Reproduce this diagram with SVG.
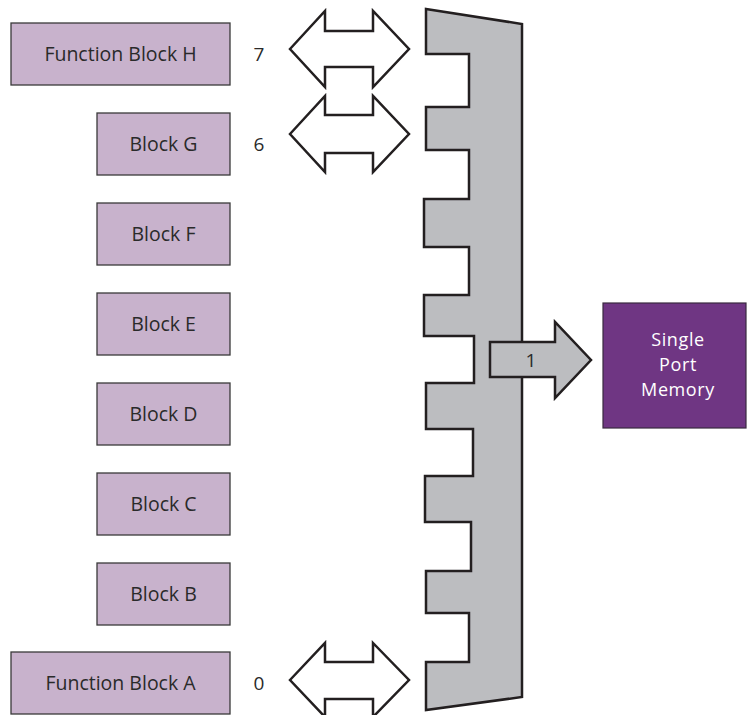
<svg xmlns="http://www.w3.org/2000/svg" width="747" height="715" viewBox="0 0 747 715">
<style>
.blk{fill:#c8b2cc;stroke:#3a3a3a;stroke-width:1.3}
.bt{font-family:"Open Sans","Lato",sans-serif;font-size:19.5px;fill:#2a2a2a;text-anchor:middle}
.num{font-family:"Open Sans","Lato",sans-serif;font-size:19px;fill:#2a2a2a;text-anchor:middle}
.dbl{fill:#fff;stroke:#231f20;stroke-width:2.5;stroke-linejoin:miter}
.mux{fill:#bcbdc0;stroke:#231f20;stroke-width:2.5;stroke-linejoin:miter}
.mem{fill:#6f3683;stroke:#3a2a40;stroke-width:1.2}
.mt{font-family:"Open Sans","Lato",sans-serif;font-size:18px;letter-spacing:0.6px;fill:#fff;text-anchor:middle}
</style>
<rect width="747" height="715" fill="#fff"/>
<g id="blockH"><rect class="blk" x="11" y="23" width="219" height="62"/><text class="bt" x="120.5" y="61">Function Block H</text></g>
<g id="blockG"><rect class="blk" x="97" y="113" width="133" height="62"/><text class="bt" x="163.5" y="151">Block G</text></g>
<g id="blockF"><rect class="blk" x="97" y="203" width="133" height="62"/><text class="bt" x="163.5" y="241">Block F</text></g>
<g id="blockE"><rect class="blk" x="97" y="293" width="133" height="62"/><text class="bt" x="163.5" y="331">Block E</text></g>
<g id="blockD"><rect class="blk" x="97" y="383" width="133" height="62"/><text class="bt" x="163.5" y="421">Block D</text></g>
<g id="blockC"><rect class="blk" x="97" y="473" width="133" height="62"/><text class="bt" x="163.5" y="511">Block C</text></g>
<g id="blockB"><rect class="blk" x="97" y="563" width="133" height="62"/><text class="bt" x="163.5" y="601">Block B</text></g>
<g id="blockA"><rect class="blk" x="11" y="652" width="219" height="62"/><text class="bt" x="120.5" y="690">Function Block A</text></g>
<g id="labels">
<text class="num" x="259" y="61">7</text>
<text class="num" x="259" y="151">6</text>
<text class="num" x="259" y="690">0</text>
</g>
<g id="mux"><path class="mux" d="M426,9 L522,24 L522,697 L426,710 L426,662 L469,662 L469,613 L426,613 L426,571 L471,571 L471,522 L425,522 L425,476 L473,476 L473,429 L426,429 L426,383 L474,383 L474,336 L424,336 L424,295 L469,295 L469,247 L424,247 L424,199 L469,199 L469,150 L426,150 L426,107 L469,107 L469,54 L426,54 Z"/></g>
<g id="connectors">
<path class="dbl" d="M290,49 L325,11 L325,31 L373,31 L373,11 L409,49 L373,87 L373,67 L325,67 L325,87 Z"/>
<path class="dbl" d="M290,134 L325,96 L325,115 L373,115 L373,96 L409,134 L373,172 L373,153 L325,153 L325,172 Z"/>
<path class="dbl" d="M290,680 L325,643 L325,662 L373,662 L373,643 L409,680 L373,717 L373,699 L325,699 L325,717 Z"/>
<path class="mux" d="M490,342 L555,342 L555,322 L591,360 L555,398 L555,377 L490,377 Z"/>
<text class="num" x="531" y="367">1</text>
</g>
<g id="memory"><rect class="mem" x="603" y="303" width="143" height="125"/>
<text class="mt" x="678" y="346">Single</text>
<text class="mt" x="678" y="371">Port</text>
<text class="mt" x="678" y="396">Memory</text>
</g>
</svg>
